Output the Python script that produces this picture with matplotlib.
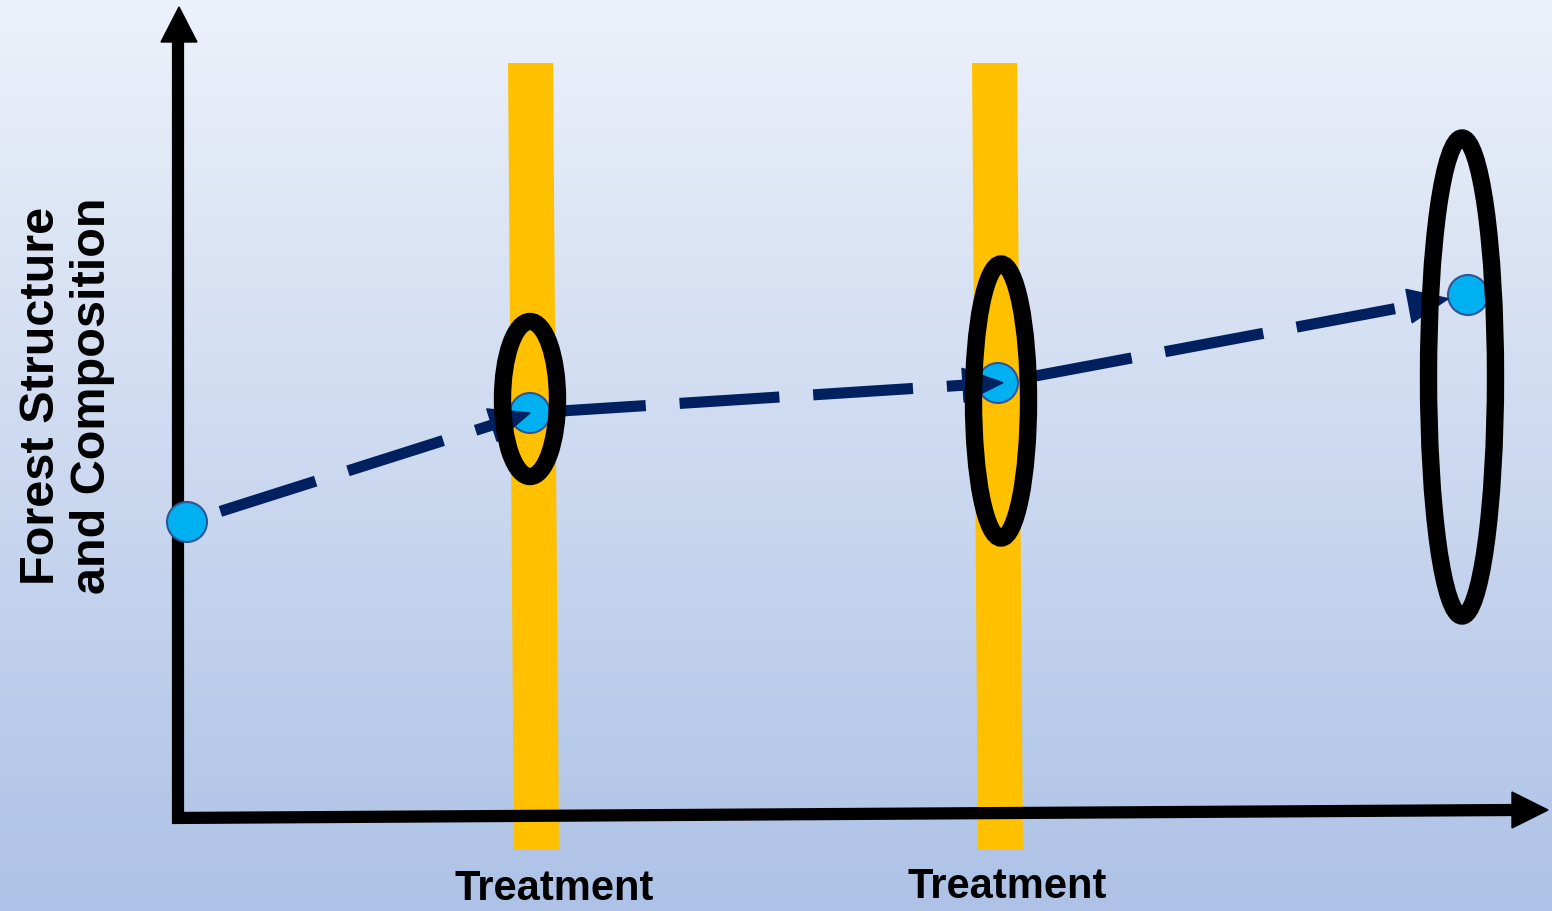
import numpy as np
import matplotlib.pyplot as plt
from matplotlib.patches import Ellipse, Circle, Polygon
from matplotlib.colors import LinearSegmentedColormap

W, H = 1552, 912

# stand condition through time (x = time, y = level, measured downward from top)
stage_x = [187, 530, 998, 1468]
stage_y = [523, 414, 384, 296]

# range of possible outcomes after each treatment
spread_x = [530, 1001, 1462]
spread_y = [400, 402, 378]
spread_w = [55, 55, 67]
spread_h = [155, 274, 478]

# treatment bands (left edge at the top)
treatment_x = [508, 972]
treatment_label_x = [554, 1007]
treatment_label_y = [889, 887]
treatment_labels = ["Treatment", "Treatment"]

ylabel = "Forest Structure\nand Composition"

# where each dashed arrow starts / stops relative to the stage points
start_gap = [35, 16, 36]
tip_gap = [0, -5, 20]

navy = "#002060"
gold = "#FFC000"

fig = plt.figure(figsize=(W / 100, H / 100), dpi=100)
ax = fig.add_axes([0, 0, 1, 1])
ax.set_xlim(0, W)
ax.set_ylim(H, 0)
ax.axis("off")

# background gradient
bg = LinearSegmentedColormap.from_list("bg", ["#EDF1FA", "#ADC2E6"])
ax.imshow(np.linspace(0, 1, 256).reshape(-1, 1), cmap=bg, aspect="auto",
          extent=(0, W, H, 0), zorder=0)

# treatment bands
for x in treatment_x:
    ax.add_patch(Polygon([(x, 64), (x + 45, 64), (x + 51, 851), (x + 6, 851)],
                         closed=True, facecolor=gold, edgecolor="none", zorder=1))

# axes with arrow heads
ax.plot([178, 178], [824, 40], color="black", lw=8.8, solid_capstyle="butt", zorder=2)
ax.add_patch(Polygon([(161, 43), (197, 43), (179, 8)], color="black", zorder=2))
ax.plot([172, 1514], [819, 811], color="black", lw=8.8, solid_capstyle="butt", zorder=2)
ax.add_patch(Polygon([(1512, 793), (1512, 829), (1548, 811)], color="black", zorder=2))

# dashed trajectory arrows
head_len, head_hw = 40, 17
for i in range(len(stage_x) - 1):
    p0 = np.array([stage_x[i], stage_y[i]], float)
    p1 = np.array([stage_x[i + 1], stage_y[i + 1]], float)
    d = (p1 - p0) / np.linalg.norm(p1 - p0)
    n = np.array([-d[1], d[0]])
    start = p0 + d * start_gap[i]
    tip = p1 - d * tip_gap[i]
    base = tip - d * head_len
    ax.plot([start[0], base[0]], [start[1], base[1]], color=navy, lw=8,
            linestyle=(0, (9, 3.05)), dash_capstyle="butt", zorder=3)
    ax.add_patch(Polygon([tip, base + n * head_hw, base - n * head_hw],
                         color=navy, zorder=5))

# stage points
for x, y in zip(stage_x, stage_y):
    ax.add_patch(Circle((x, y), 20, facecolor="#00B0F0", edgecolor="#2F5597",
                        lw=1.5, zorder=4))

# outcome ellipses
for x, y, w, h in zip(spread_x, spread_y, spread_w, spread_h):
    ax.add_patch(Ellipse((x, y), w, h, facecolor="none", edgecolor="black",
                         lw=12.5, zorder=6))

# labels
font = ["Liberation Sans", "DejaVu Sans"]
ax.text(67, 396, ylabel, rotation=90, ha="center", va="center",
        multialignment="center", fontsize=35, fontweight="bold",
        family=font, linespacing=1.15, zorder=7)
for x, y, s in zip(treatment_label_x, treatment_label_y, treatment_labels):
    ax.text(x, y, s, ha="center", va="center", fontsize=30,
            fontweight="bold", family=font, zorder=7)

fig.savefig("out.png", dpi=100)
